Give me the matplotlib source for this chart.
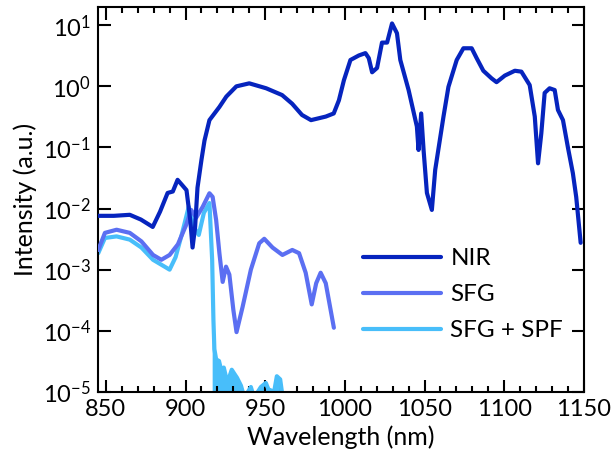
import numpy as np
import matplotlib
matplotlib.use('Agg')
import matplotlib.pyplot as plt
from matplotlib.ticker import FixedLocator, FuncFormatter, MultipleLocator

plt.rcParams['font.family'] = ['Lato', 'DejaVu Sans']
plt.rcParams['mathtext.fontset'] = 'custom'
plt.rcParams['mathtext.rm'] = 'Lato'
plt.rcParams['mathtext.it'] = 'Lato'
plt.rcParams['axes.unicode_minus'] = False

# NIR spectrum
nir_wl = [845, 855, 865, 872, 879.4, 884, 888.75, 892, 895, 898, 900.6, 903, 904.4, 906,
          907.5, 910, 911.9, 915, 921.25, 925.6, 931.9, 940, 950.6, 960.6, 966.9, 973.1,
          978.75, 988, 993, 996.25, 999.4, 1003.5, 1008.75, 1012.9, 1015, 1017.1, 1020.2,
          1023.3, 1026.5, 1029.6, 1032.7, 1034.8, 1040, 1045.2, 1046.25, 1047.9, 1049.4,
          1051.5, 1054.6, 1056.7, 1061.9, 1065, 1070.2, 1074.4, 1079.6, 1082.7, 1086.9,
          1092.1, 1095.2, 1100.4, 1106.7, 1110.8, 1116, 1119.2, 1121.25, 1123.3, 1125.4,
          1128.5, 1131.7, 1133.75, 1136.9, 1140, 1143.1, 1145.2, 1148]
nir_int = [7.6e-3, 7.6e-3, 7.9e-3, 6.6e-3, 5.0e-3, 8.9e-3, 1.8e-2, 1.9e-2, 2.95e-2, 2.4e-2,
           2.0e-2, 6.3e-3, 2.3e-3, 5.0e-3, 2.2e-2, 6.3e-2, 0.13, 0.28, 0.46, 0.68, 1.0, 1.12,
           0.93, 0.72, 0.52, 0.34, 0.28, 0.32, 0.36, 0.59, 1.26, 2.7, 3.2, 3.5, 2.9, 1.7, 2.0,
           5.2, 5.2, 10.7, 7.4, 2.7, 0.87, 0.22, 0.091, 0.36, 0.091, 0.018, 0.0095, 0.043,
           0.32, 0.98, 2.7, 4.2, 4.2, 2.9, 1.8, 1.35, 1.17, 1.5, 1.8, 1.74, 1.05, 0.32,
           0.055, 0.17, 0.78, 0.93, 0.87, 0.41, 0.28, 0.10, 0.038, 0.0155, 0.00275]

# SFG spectrum
sfg_wl = [845.2, 849.4, 856.7, 865, 872.3, 879.6, 884.8, 890, 895.2, 900.4, 903.5, 906.7,
          910.8, 915, 917, 919.2, 921.25, 923.3, 925.4, 927.5, 930, 932, 935.8, 941, 946.25,
          949.4, 954.6, 960.8, 967, 971.25, 975.4, 979.2, 982, 984.8, 988, 993.1]
sfg_int = [2.1e-3, 4.0e-3, 4.5e-3, 4.0e-3, 2.9e-3, 1.74e-3, 1.45e-3, 1.74e-3, 2.6e-3, 5.4e-3,
           9.5e-3, 7.1e-3, 1.07e-2, 1.78e-2, 1.55e-2, 6.5e-3, 1.86e-3, 6.3e-4, 1.12e-3, 8.3e-4,
           2.2e-4, 9.5e-5, 2.45e-4, 1.0e-3, 2.7e-3, 3.2e-3, 2.3e-3, 1.74e-3, 2.1e-3, 1.86e-3,
           8.9e-4, 2.7e-4, 6.0e-4, 8.9e-4, 6.0e-4, 1.12e-4]

# SFG after short-pass filter
spf_wl = [845.2, 849.4, 856.7, 865, 872.3, 879.6, 890, 893.75, 897.9, 902, 905.2, 908.3,
          911.5, 915, 916.7, 917.5, 918.1, 919.2, 921, 922.3, 924, 926.25, 929, 930.5,
          932.3, 934.8, 936.9, 941, 943, 947.3, 950.4, 952, 955.6, 957.3, 959.4, 961]
spf_int = [1.86e-3, 3.3e-3, 3.5e-3, 3.1e-3, 2.3e-3, 1.45e-3, 1.0e-3, 1.6e-3, 4.0e-3, 1.07e-2,
           5.0e-3, 3.7e-3, 8.5e-3, 1.23e-2, 1.45e-3, 1.5e-4, 5e-5, 3.4e-5, 3.2e-5, 2.3e-5,
           2.5e-5, 1.4e-5, 2.3e-5, 2.0e-5, 1.7e-5, 1.26e-5, 8e-6, 1.2e-5, 8e-6, 1.2e-5,
           1.4e-5, 1.1e-5, 1.0e-5, 1.8e-5, 1.6e-5, 8e-6]

c_nir = '#0624BE'
c_sfg = '#5B6FF2'
c_spf = '#48BEFA'

fig = plt.figure(figsize=(6.12, 4.61), dpi=100)
ax = fig.add_axes([0.160, 0.150, 0.794, 0.835])

spf_wl_a = np.array(spf_wl)
spf_int_a = np.array(spf_int)
tail = spf_wl_a >= 916.7
ax.fill_between(spf_wl_a[tail], 1e-6, spf_int_a[tail], color=c_spf, lw=0, zorder=1)
ax.plot(spf_wl, spf_int, color=c_spf, lw=3, label='SFG + SPF', zorder=2,
        solid_joinstyle='round', solid_capstyle='round')
ax.plot(sfg_wl, sfg_int, color=c_sfg, lw=3, label='SFG', zorder=3,
        solid_joinstyle='round', solid_capstyle='round')
ax.plot(nir_wl, nir_int, color=c_nir, lw=3, label='NIR', zorder=4,
        solid_joinstyle='round', solid_capstyle='round')

ax.set_yscale('log')
ax.set_xlim(845, 1150)
ax.set_ylim(1e-5, 10 ** 1.3)

ax.xaxis.set_major_locator(MultipleLocator(50))
ax.xaxis.set_minor_locator(MultipleLocator(10))
ax.yaxis.set_major_locator(FixedLocator([1e-5, 1e-4, 1e-3, 1e-2, 1e-1, 1e0, 1e1]))
ax.yaxis.set_minor_locator(FixedLocator([]))
ax.yaxis.set_major_formatter(FuncFormatter(lambda v, p: r'10$^{%d}$' % int(round(np.log10(v)))))

ax.tick_params(which='both', direction='in', top=True, right=True, width=1.5)
ax.tick_params(which='major', length=9, labelsize=17, pad=5)
ax.tick_params(which='minor', length=4)
for s in ax.spines.values():
    s.set_linewidth(1.5)

ax.set_xlabel('Wavelength (nm)', fontsize=18, labelpad=4)
ax.set_ylabel('Intensity (a.u.)', fontsize=18, labelpad=4)

h, l = ax.get_legend_handles_labels()
ax.legend(h[::-1], l[::-1], loc='upper left', bbox_to_anchor=(0.593, 0.462),
          bbox_transform=fig.transFigure, frameon=False, fontsize=17.5,
          handlelength=3.2, handletextpad=0.4, labelspacing=0.62,
          borderpad=0, borderaxespad=0)

fig.savefig('out.png', dpi=100)
